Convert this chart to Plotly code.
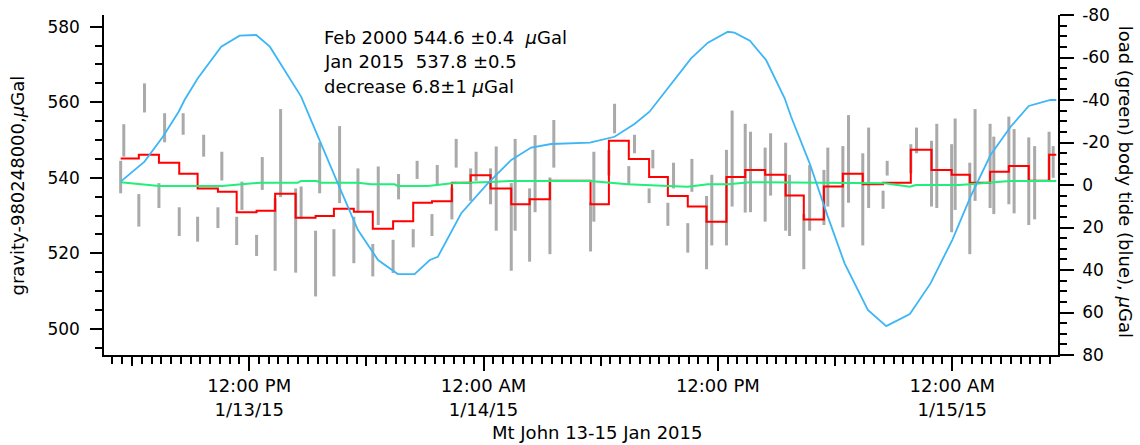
# Gravity record at Mt John, 13-15 Jan 2015
import pandas as pd
import plotly.graph_objects as go

# Time of each measurement, hours after 00:00 13 Jan 2015
bar_hours = [5.42, 5.58, 6.35, 6.64, 7.38, 7.67, 8.42, 8.62, 9.36, 9.67, 10.40, 10.60,
             11.36, 11.63, 12.38, 12.67, 13.33, 13.61, 14.38, 14.66, 15.40, 15.61, 16.34, 16.63,
             17.36, 17.57, 18.33, 18.61, 19.37, 19.65, 20.40, 20.60, 21.36, 21.63, 22.38, 22.60,
             23.34, 23.62, 24.36, 24.65, 25.42, 25.62, 26.36, 26.64, 27.40, 27.60, 29.48, 29.65,
             30.42, 30.71, 31.44, 31.73, 32.48, 32.67, 33.44, 33.73, 34.46, 34.67, 35.42, 35.69,
             36.44, 36.73, 37.40, 37.67, 38.42, 38.70, 39.47, 39.67, 40.40, 40.70, 41.43, 41.63,
             42.40, 42.69, 43.42, 43.72, 44.46, 44.67, 45.88, 46.17, 46.94, 47.21, 47.97, 48.15,
             48.90, 49.17, 49.94, 50.13, 50.90, 51.17, 51.92, 52.22, 52.96, 53.17]
bar_lo = [535.9, 545.6, 527.1, 557.3, 532.0, 549.4, 524.6, 551.4, 523.1, 545.6, 526.7, 539.3,
          522.2, 531.5, 519.3, 536.8, 515.4, 534.9, 514.9, 529.1, 508.6, 535.9, 513.9, 533.3,
          517.4, 530.8, 513.9, 527.5, 514.8, 534.3, 521.6, 539.7, 524.6, 537.9, 529.0, 542.7,
          533.9, 539.2, 533.0, 526.0, 515.4, 526.0, 517.8, 530.9, 519.8, 542.7, 520.5, 528.4,
          540.6, 551.8, 538.1, 546.5, 533.3, 542.5, 527.3, 537.2, 520.2, 536.3, 515.8, 522.1,
          522.1, 532.4, 530.8, 530.9, 528.4, 535.3, 526.0, 524.6, 515.8, 526.0, 527.5, 532.4,
          526.9, 533.4, 522.1, 532.0, 531.8, 540.6, 541.2, 546.5, 532.4, 532.0, 525.6, 531.5,
          519.8, 533.9, 532.0, 530.4, 533.0, 530.6, 527.5, 529.0, 539.2, 540.0]
bar_hi = [544.5, 554.2, 535.7, 565.0, 538.6, 557.1, 532.2, 557.1, 529.7, 551.4, 532.2, 546.9,
          529.7, 539.0, 524.9, 545.5, 534.6, 558.2, 537.2, 537.7, 526.0, 549.4, 526.4, 553.7,
          529.7, 542.5, 522.5, 543.0, 523.6, 541.0, 526.4, 544.5, 530.4, 543.4, 537.4, 550.3,
          542.5, 546.9, 542.5, 548.3, 538.6, 550.3, 537.2, 551.3, 540.1, 555.3, 533.5, 546.9,
          547.4, 559.6, 543.1, 551.4, 537.2, 547.4, 533.4, 544.0, 528.0, 545.0, 535.2, 540.8,
          547.4, 557.8, 554.3, 552.2, 548.0, 551.8, 549.3, 540.8, 530.4, 543.4, 542.1, 548.0,
          548.4, 556.6, 546.5, 553.3, 536.6, 544.5, 548.9, 553.3, 549.8, 554.3, 548.9, 555.7,
          544.0, 558.2, 554.3, 550.9, 556.2, 552.9, 550.7, 548.4, 552.2, 548.4]

# Hourly means (red steps)
mean_hours = [5.42, 6.35, 7.38, 8.42, 9.36, 10.40, 11.36, 12.38, 13.33, 14.38, 15.40, 16.34,
              17.36, 18.33, 19.37, 20.40, 21.36, 22.38, 23.34, 24.36, 25.42, 26.36, 27.40, 29.48,
              30.42, 31.44, 32.48, 33.44, 34.46, 35.42, 36.44, 37.40, 38.42, 39.47, 40.40, 41.43,
              42.40, 43.42, 44.46, 45.88, 46.94, 47.97, 48.90, 49.94, 50.90, 51.92, 52.96, 53.33]
mean_val = [545.1, 546.1, 544.0, 541.1, 537.2, 536.3, 530.9, 531.3, 535.8, 529.4, 529.9, 531.8,
            531.0, 526.5, 528.5, 533.4, 533.8, 538.7, 540.7, 537.2, 533.0, 534.3, 539.2, 533.0,
            549.8, 545.0, 540.2, 535.2, 532.4, 528.4, 540.2, 542.1, 540.8, 535.3, 529.0, 537.7,
            541.1, 538.3, 538.7, 547.4, 542.1, 540.8, 538.7, 541.6, 543.1, 539.2, 546.1, 546.1]

# Body tide (blue), uGal, right axis
tide_hours = [5.42, 6.64, 7.58, 8.39, 8.69, 9.37, 10.57, 11.51, 12.36, 13.06, 14.66, 15.52,
              16.54, 17.57, 18.60, 19.61, 20.47, 21.25, 21.66, 22.86, 24.22, 25.42, 26.44, 27.46,
              29.45, 30.71, 31.73, 32.50, 33.44, 34.63, 35.49, 36.51, 36.85, 37.64, 38.47, 39.42,
              39.75, 40.70, 41.63, 42.49, 43.68, 44.62, 45.83, 46.89, 48.00, 48.94, 49.96, 50.99,
              51.92, 53.03, 53.33]
tide_val = [-1.6, -11.0, -22.7, -34.5, -40.0, -50.2, -65.1, -70.3, -70.6, -65.1, -41.6, -22.7,
            -0.8, 21.2, 35.3, 41.9, 41.9, 35.3, 33.8, 13.3, -0.8, -11.8, -17.6, -19.3,
            -19.9, -22.7, -28.7, -34.5, -45.5, -59.6, -67.0, -72.1, -71.7, -67.9, -58.8, -40.8,
            -32.1, -10.2, 14.9, 36.9, 58.8, 66.4, 60.7, 46.3, 25.9, 5.5, -14.1, -27.4,
            -37.2, -40.0, -40.0]

# Ocean load (green), uGal, right axis
load_hours = [5.42, 6.64, 7.38, 10.60, 11.42, 12.60, 14.49, 14.66, 15.45, 15.69, 17.57, 18.25,
              19.45, 19.61, 21.15, 22.38, 24.33, 25.40, 29.45, 30.67, 31.39, 33.44, 34.46, 35.49,
              36.51, 37.64, 44.29, 44.55, 45.83, 46.14, 48.39, 49.93, 50.95, 53.33]
load_val = [-1.3, -0.3, 0.5, 0.5, -0.3, -1.1, -1.1, -1.9, -1.9, -1.1, -1.1, -0.3,
            -0.3, 0.5, 0.5, -0.8, -1.4, -1.9, -1.9, -1.1, -0.3, 0.5, 0.8, -0.3,
            -0.3, -1.3, -1.1, -0.8, 0.8, 0.0, 0.0, -1.1, -1.9, -1.9]

t0 = pd.Timestamp('2015-01-13')
def to_time(hours):
    return list(t0 + pd.to_timedelta(hours, unit='h'))

x_range = ['2015-01-13 04:34', '2015-01-15 05:25']
major_ticks = ['2015-01-13 12:00', '2015-01-14 00:00', '2015-01-14 12:00', '2015-01-15 00:00']
major_text = ['12:00 PM<br>1/13/15', '12:00 AM<br>1/14/15', '12:00 PM', '12:00 AM<br>1/15/15']
mid_ticks = ['2015-01-13 06:00', '2015-01-13 18:00', '2015-01-14 06:00', '2015-01-14 18:00']
right_vals = [-80, -60, -40, -20, 0, 20, 40, 60, 80]
right_text = ['-80', '-60', '-40', '-20', '0', '20', '40', '60', '80']

font = 'DejaVu Sans'
fig = go.Figure()

# gray measurement bars
bx, by = [], []
for t, lo, hi in zip(to_time(bar_hours), bar_lo, bar_hi):
    bx += [t, t, None]
    by += [lo, hi, None]
fig.add_trace(go.Scatter(x=bx, y=by, mode='lines', line=dict(color='#aaaaaa', width=3),
                         showlegend=False, hoverinfo='skip'))

fig.add_trace(go.Scatter(x=to_time(load_hours), y=load_val, mode='lines', yaxis='y2',
                         line=dict(color='#22ee7a', width=2), showlegend=False))
fig.add_trace(go.Scatter(x=to_time(tide_hours), y=tide_val, mode='lines', yaxis='y2',
                         line=dict(color='#3db6f5', width=1.8), showlegend=False))
fig.add_trace(go.Scatter(x=to_time(mean_hours), y=mean_val, mode='lines', line_shape='hv',
                         line=dict(color='#ff0000', width=2), showlegend=False))
# carrier for the 6-hour tick axis
fig.add_trace(go.Scatter(x=mid_ticks, y=[None] * len(mid_ticks), xaxis='x2', mode='lines',
                         showlegend=False, hoverinfo='skip'))

tick_style = dict(ticks='outside', tickcolor='black', tickwidth=1.5, showgrid=False,
                  zeroline=False, showline=True, linecolor='black', linewidth=1.5,
                  automargin=False, ticklabeloverflow='allow')

fig.update_layout(
    template='none',
    width=1140, height=445,
    margin=dict(l=104, r=82, t=15, b=90),
    paper_bgcolor='white', plot_bgcolor='white',
    font=dict(family=font, size=18, color='black'),
    xaxis=dict(type='date', range=x_range, tickmode='array', tickvals=major_ticks,
               ticktext=major_text, ticklen=14, tickfont=dict(size=18),
               minor=dict(ticks='outside', ticklen=7, tickwidth=1.5, tickcolor='black',
                          tick0='2015-01-13', dtick=1800000, showgrid=False),
               **tick_style),
    xaxis2=dict(type='date', range=x_range, overlaying='x', anchor='y', side='bottom',
                tickmode='array', tickvals=mid_ticks, ticks='outside', ticklen=10,
                tickwidth=1.5, tickcolor='black', showticklabels=False, showgrid=False,
                zeroline=False, showline=False, automargin=False),
    yaxis=dict(range=[493.1, 583.1], tick0=0, dtick=20, ticklen=12, tickfont=dict(size=17),
               ticklabelstandoff=7,
               minor=dict(ticks='outside', ticklen=7, tickwidth=1.5, tickcolor='black',
                          tick0=0, dtick=5, showgrid=False),
               **tick_style),
    yaxis2=dict(range=[80, -80], overlaying='y', side='right', anchor='x', tickmode='array',
                tickvals=right_vals, ticktext=right_text, ticklen=14, tickfont=dict(size=17),
                ticklabelstandoff=5,
                minor=dict(ticks='outside', ticklen=7, tickwidth=1.5, tickcolor='black',
                           tickmode='linear', tick0=0, dtick=5, showgrid=False),
                **tick_style),
)

notes = ['Feb 2000 544.6 ±0.4\u00a0 <i>μ</i>Gal',
         'Jan 2015\u00a0 537.8 ±0.5',
         'decrease 6.8±1 <i>μ</i>Gal']
for i, txt in enumerate(notes):
    fig.add_annotation(text=txt, xref='paper', yref='paper', x=0.2286, y=0.935 - i * 0.0725,
                       xanchor='left', yanchor='middle', showarrow=False, font=dict(size=18))

fig.add_annotation(text='gravity-980248000,<i>μ</i>Gal', xref='paper', yref='paper',
                   x=-0.0907, y=0.5, xanchor='center', yanchor='middle', textangle=-90,
                   showarrow=False, font=dict(size=18))
fig.add_annotation(text='load (green) body tide (blue), <i>μ</i>Gal', xref='paper', yref='paper',
                   x=1.0702, y=0.51, xanchor='center', yanchor='middle', textangle=90,
                   showarrow=False, font=dict(size=18))
fig.add_annotation(text='Mt John 13-15 Jan 2015', xref='paper', yref='paper',
                   x=0.5168, y=-0.2265, xanchor='center', yanchor='middle',
                   showarrow=False, font=dict(size=18))

# drop the default 8px page margin so the figure fills the window exactly
fig.write_html("out.html", config={'displayModeBar': False},
               post_script="document.body.style.margin = '0';")
